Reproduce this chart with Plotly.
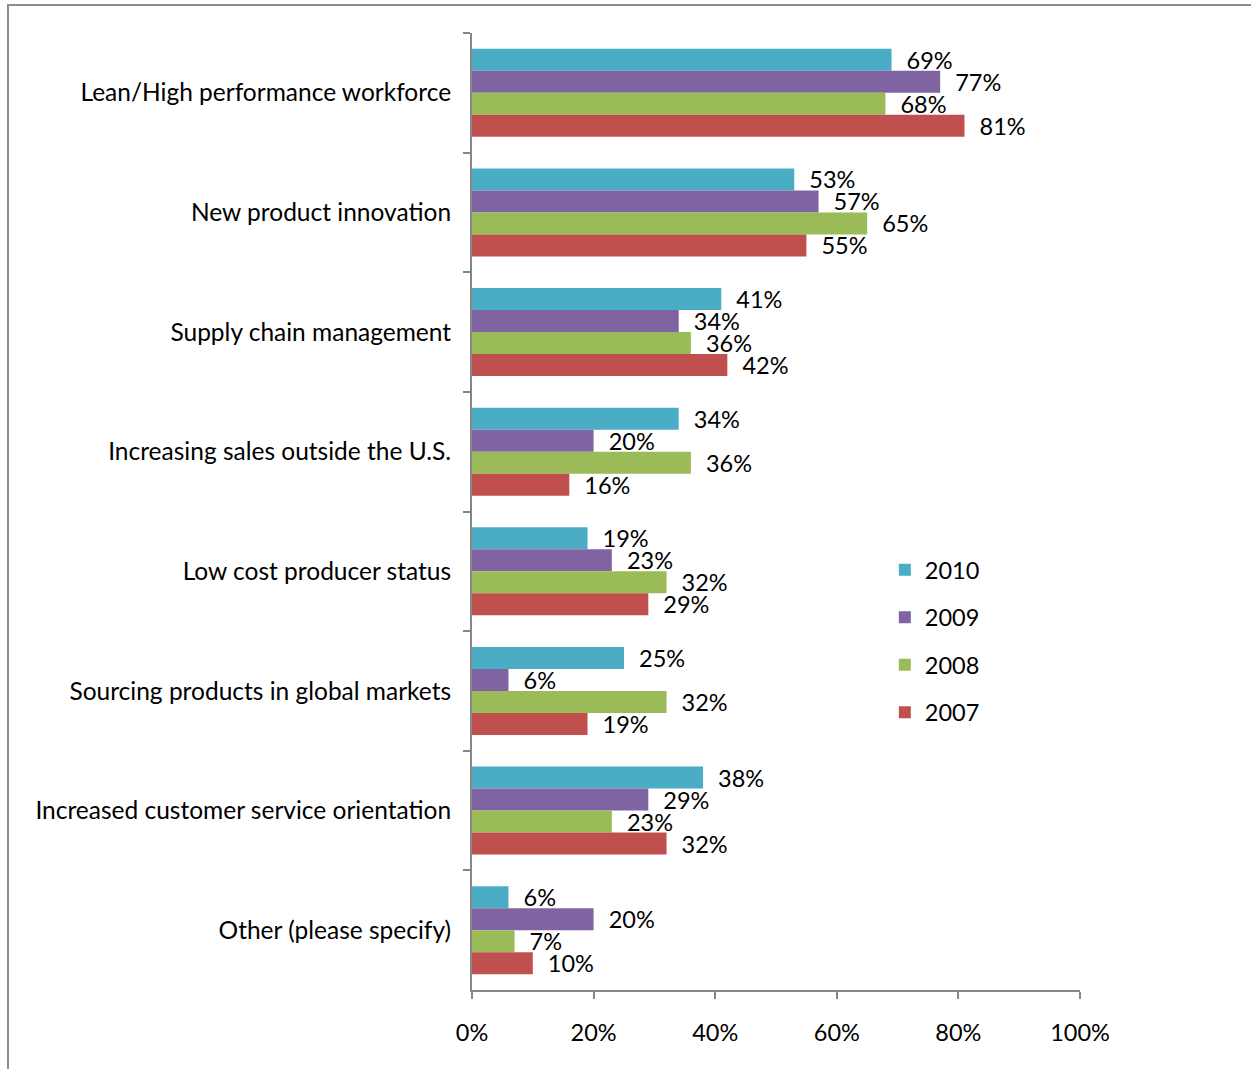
import plotly.graph_objects as go

categories = [
    "Lean/High performance workforce",
    "New product innovation",
    "Supply chain management",
    "Increasing sales outside the U.S.",
    "Low cost producer status",
    "Sourcing products in global markets",
    "Increased customer service orientation",
    "Other (please specify)",
]

years = ["2010", "2009", "2008", "2007"]
values_2010 = [0.69, 0.53, 0.41, 0.34, 0.19, 0.25, 0.38, 0.06]
values_2009 = [0.77, 0.57, 0.34, 0.20, 0.23, 0.06, 0.29, 0.20]
values_2008 = [0.68, 0.65, 0.36, 0.36, 0.32, 0.32, 0.23, 0.07]
values_2007 = [0.81, 0.55, 0.42, 0.16, 0.29, 0.19, 0.32, 0.10]
series = [values_2010, values_2009, values_2008, values_2007]
colors = ["#4BACC6", "#8064A2", "#9BBB59", "#C0504D"]

FONT = "Lato"
FS = 23.5
W, H = 1251, 1069
L, R, T, B = 472, 171, 33, 79

fig = go.Figure()
for year, vals, col in zip(years, series, colors):
    fig.add_trace(go.Bar(
        y=categories, x=vals, name=year, orientation="h",
        marker=dict(color=col, line=dict(width=0)),
        text=vals, texttemplate="\u00a0\u00a0%{x:.0%}",
        textposition="outside", constraintext="none", cliponaxis=False,
        textfont=dict(family=FONT, size=FS, color="#000000"),
        legendgroup=year,
    ))

# outer frame of the chart area
fig.add_shape(type="rect", xref="paper", yref="paper",
              x0=(8 - L) / (W - L - R), x1=1.6,
              y0=-0.5, y1=1 + (T - 5) / (H - T - B),
              line=dict(color="#8C8C8C", width=2), fillcolor="rgba(0,0,0,0)",
              layer="below")

fig.update_layout(
    width=W, height=H,
    margin=dict(l=L, r=R, t=T, b=B, pad=0),
    paper_bgcolor="white", plot_bgcolor="white",
    barmode="group", bargap=0.264, bargroupgap=0,
    font=dict(family=FONT, size=FS, color="#000000"),
    showlegend=True,
    legend=dict(x=0.679, y=0.462, xanchor="left", yanchor="top",
                font=dict(family=FONT, size=FS), tracegroupgap=14,
                bgcolor="rgba(0,0,0,0)", traceorder="grouped"),
    xaxis=dict(range=[0, 1], tickvals=[0, 0.2, 0.4, 0.6, 0.8, 1.0],
               tickformat=".0%", showgrid=False, zeroline=False,
               showline=True, linecolor="#868686", linewidth=2,
               ticks="outside", ticklen=7, tickwidth=2, tickcolor="#868686",
               ticklabelstandoff=14, fixedrange=True),
    yaxis=dict(autorange="reversed", showgrid=False, zeroline=False,
               showline=True, linecolor="#868686", linewidth=2,
               ticks="outside", ticklen=7, tickwidth=2, tickcolor="#868686",
               tickson="boundaries", ticklabelstandoff=14, fixedrange=True,
               tickfont=dict(family=FONT, size=24.5)),
)

fig.write_html("out.html")
